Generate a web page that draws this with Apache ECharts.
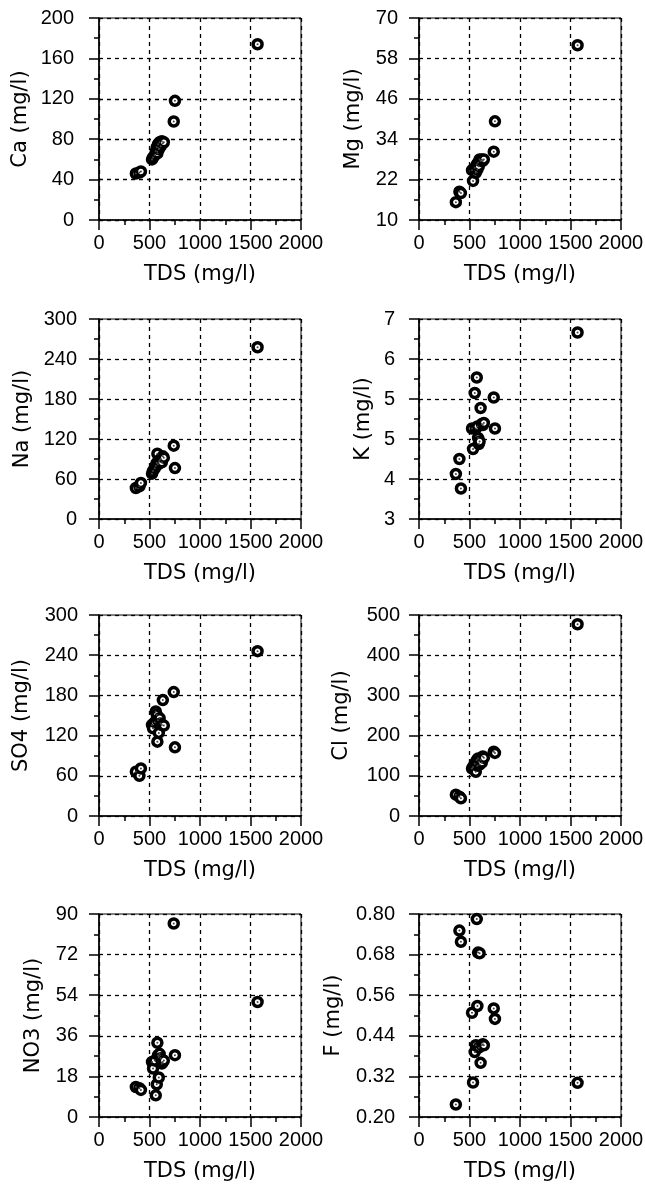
<!DOCTYPE html>
<html><head><meta charset="utf-8">
<script src="https://cdn.jsdelivr.net/npm/echarts@6/dist/echarts.min.js"></script>
<style>html,body{margin:0;padding:0;background:#fff}#c{width:645px;height:1187px}</style>
</head><body><div id="c"></div>
<script>
// Total dissolved solids for each sample (shared x values)
const TDS = [365, 400, 415, 1570, 740, 752, 525, 535, 552, 562, 572, 578, 585, 592, 600, 610, 622, 632, 642];
// Ion concentrations per sample (mg/l)
const CA  = [46, 47, 48, 174, 97.5, 118, 60, 62, 64, 68, 72, 66, 75, 70, 77, 73, 78, 76, 77];
const MG  = [15.3, 18.4, 18.0, 61.9, 30.3, 39.3, 24.8, 21.6, 25.5, 24, 26.5, 25, 27, 26, 28, 27.5, 28, 27.6, 28];
const NA  = [46.5, 49, 54, 257.6, 110, 76.4, 68, 72, 76, 80, 84, 97.9, 82, 86, 88, 90, 85, 94, 92];
const K   = [3.90, 4.20, 3.61, 6.73, 5.43, 4.81, 4.81, 4.40, 5.52, 4.81, 5.83, 4.85, 4.62, 4.50, 4.55, 5.22, 4.90, 4.88, 4.92];
const SO4 = [66, 60, 71, 246, 185, 102.5, 136, 131, 140, 156, 151, 111, 143, 124, 146, 138, 136, 173, 135];
const CL  = [53, 48, 44, 477, 160, 157, 118, 122, 130, 110, 139, 125, 143, 135, 128, 140, 133, 148, 145];
const NO3 = [13.3, 12.8, 12.0, 51, 85.8, 27.4, 24.4, 21.5, 25, 9.6, 14.5, 32.9, 27.4, 17.5, 28, 26, 23.7, 24.4, 25];
const F   = [0.237, 0.751, 0.718, 0.301, 0.521, 0.490, 0.508, 0.302, 0.392, 0.412, 0.785, 0.528, 0.686, 0.405, 0.684, 0.360, 0.412, 0.415, 0.412];

const PANEL_VALUES = [CA, MG, NA, K, SO4, CL, NO3, F];
const Y_NAMES = ['Ca (mg/l)', 'Mg (mg/l)', 'Na (mg/l)', 'K (mg/l)', 'SO4 (mg/l)', 'Cl (mg/l)', 'NO3 (mg/l)', 'F (mg/l)'];
const Y_MIN = [0, 10, 0, 3, 0, 0, 0, 0.2];
const Y_MAX = [200, 70, 300, 7, 300, 500, 90, 0.8];
const Y_STEP = [40, 12, 60, 0.8, 60, 100, 18, 0.12];
const Y_DECIMALS = [0, 0, 0, 0, 0, 0, 0, 2];
const X_NAME = 'TDS (mg/l)';
const X_MIN = 0, X_MAX = 2000, X_STEP = 500;

// layout
const COL_LEFT = [99, 419];
const ROW_TOP = [18, 319, 615, 914];
const ROW_H = [202, 200, 201, 203];
const PLOT_W = 202;
const Y_LABEL_MARGIN = [25, 21, 22, 24, 21, 19, 21, 24];
const Y_NAME_GAP = [68, 55, 66, 45, 67, 67, 55, 75];

const TICK_FONT = 'Liberation Sans';
const NAME_FONT = 'DejaVu Sans';

const grids = [], xAxes = [], yAxes = [], series = [];
for (let i = 0; i < 8; i++) {
  const col = i % 2, row = Math.floor(i / 2);
  grids.push({
    left: COL_LEFT[col], top: ROW_TOP[row], width: PLOT_W, height: ROW_H[row],
    show: true, borderColor: '#000', borderWidth: 1, backgroundColor: 'transparent',
    outerBoundsMode: 'none', containLabel: false
  });
  const common = {
    axisLine: { show: true, onZero: false, lineStyle: { color: '#000', width: 1.6 } },
    axisTick: { show: true, inside: false, length: 10, lineStyle: { color: '#000', width: 1.5 } },
    minorTick: { show: true, splitNumber: 2, length: 5, lineStyle: { color: '#000', width: 1.5 } },
    splitLine: { show: true, lineStyle: { color: '#000', width: 1.3, type: [4, 4] } },
    nameLocation: 'middle',
    nameTextStyle: { fontFamily: NAME_FONT, fontSize: 21, color: '#000' }
  };
  xAxes.push(Object.assign({}, common, {
    type: 'value', gridIndex: i, min: X_MIN, max: X_MAX, interval: X_STEP,
    name: X_NAME, nameGap: 44,
    axisLabel: { margin: 13, fontFamily: TICK_FONT, fontSize: 20, color: '#000',
      formatter: v => String(Math.round(v)) }
  }));
  const dec = Y_DECIMALS[i];
  yAxes.push(Object.assign({}, common, {
    type: 'value', gridIndex: i, min: Y_MIN[i], max: Y_MAX[i], interval: Y_STEP[i],
    name: Y_NAMES[i], nameGap: Y_NAME_GAP[i], nameRotate: 90,
    axisLabel: { margin: Y_LABEL_MARGIN[i], fontFamily: TICK_FONT, fontSize: 20, color: '#000',
      formatter: v => dec ? v.toFixed(dec) : String(Math.round(v)) }
  }));
  const pts = TDS.map((t, j) => [t, PANEL_VALUES[i][j]]);
  series.push({
    type: 'scatter', xAxisIndex: i, yAxisIndex: i, data: pts,
    symbol: 'circle', symbolSize: 9,
    itemStyle: { color: '#fff', borderColor: '#000', borderWidth: 3.5, opacity: 1 },
    emphasis: { disabled: true }, silent: true, z: 3
  });
  series.push({
    type: 'scatter', xAxisIndex: i, yAxisIndex: i, data: pts,
    symbol: 'circle', symbolSize: 2,
    itemStyle: { color: '#444', opacity: 1 },
    emphasis: { disabled: true }, silent: true, z: 4
  });
}

const chart = echarts.init(document.getElementById('c'), null, { renderer: 'canvas' });
chart.setOption({
  animation: false,
  backgroundColor: '#fff',
  grid: grids, xAxis: xAxes, yAxis: yAxes, series: series
});
</script>
</body></html>
